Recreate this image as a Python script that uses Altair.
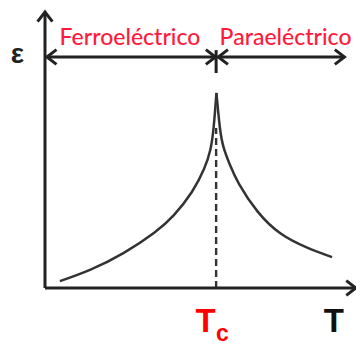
import altair as alt
import pandas as pd

# Permittivity vs temperature around the Curie point (arbitrary units)
TC = 55.2
left_T = [4.8, 14.5, 25.3, 36.0, 41.4, 47.8, 51.6, 53.5, 54.4, 55.3]
left_eps = [2.5, 6.3, 12.3, 20.4, 25.8, 34.9, 43.4, 50.0, 57.2, 70.7]
right_T = [55.3, 56.4, 57.4, 59.7, 61.9, 68.4, 75.8, 84.5, 92.6]
right_eps = [70.7, 57.2, 51.0, 44.4, 38.6, 27.2, 19.2, 14.5, 11.2]

# Phase-region arrows and labels
band_eps = 83.7
phase_labels = ["Ferroeléctrico", "Paraeléctrico"]
phase_T = [27.4, 77.6]
phase_eps = [88.0, 88.0]
ferro_span = [0.6, 55.0]
para_span = [55.9, 96.6]

W, H = 310, 276
INK = "#222222"
RED = "#ff1a3c"

xs = alt.Scale(domain=[0, 100], nice=False, zero=False)
ys = alt.Scale(domain=[0, 100], nice=False, zero=False)


def X(field="T"):
    return alt.X(field, type="quantitative", scale=xs, axis=None)


def Y(field="eps"):
    return alt.Y(field, type="quantitative", scale=ys, axis=None)


curve_df = pd.DataFrame(
    {"T": left_T + right_T,
     "eps": left_eps + right_eps,
     "branch": ["ferro"] * len(left_T) + ["para"] * len(right_T)}
)
curve = alt.Chart(curve_df).mark_line(
    interpolate="basis", color="#333333", strokeWidth=2.5
).encode(x=X(), y=Y(), detail="branch:N")

# Axes as plain segments
segs = pd.DataFrame({
    "T": [0, 0, ferro_span[0], para_span[0], TC],
    "T2": [0, 100, ferro_span[1], para_span[1], TC],
    "eps": [0, 0, band_eps, band_eps, 77.9],
    "eps2": [100, 0, band_eps, band_eps, 86.2],
})
axes = alt.Chart(segs).mark_rule(color=INK, strokeWidth=3).encode(
    x=X(), x2="T2", y=Y(), y2="eps2"
)

# Dashed marker at the Curie temperature
dash_df = pd.DataFrame({"T": [TC], "eps": [0], "eps2": [58]})
dashed = alt.Chart(dash_df).mark_rule(
    color="#333333", strokeWidth=2.4, strokeDash=[7, 4]
).encode(x=X(), y=Y(), y2="eps2")

# Open arrowheads (tip at the point, pointing right before rotation)
chevron = "M-1.3,-1L0,0L-1.3,1"
heads = pd.DataFrame({
    "T": [0, 100.3, ferro_span[0], ferro_span[1], para_span[0], para_span[1]],
    "eps": [100, 0, band_eps, band_eps, band_eps, band_eps],
    "ang": [270, 0, 180, 0, 180, 0],
})
arrowheads = alt.Chart(heads).mark_point(
    shape=chevron, filled=False, color=INK, strokeWidth=3, size=220, opacity=1
).encode(x=X(), y=Y(), angle=alt.Angle("ang:Q", scale=None))

phase_df = pd.DataFrame({"T": phase_T, "eps": phase_eps, "label": phase_labels})
phase_text = alt.Chart(phase_df).mark_text(
    font="Lato", fontSize=23, fontWeight=500, color=RED,
    baseline="alphabetic", align="center"
).encode(x=X(), y=Y(), text="label:N")

eps_df = pd.DataFrame({"T": [-8.9], "eps": [84.6], "label": ["ε"]})
eps_text = alt.Chart(eps_df).mark_text(
    font="Liberation Sans", fontWeight="bold", fontSize=28, color=INK,
    baseline="middle", align="center"
).encode(x=X(), y=Y(), text="label:N")

t_df = pd.DataFrame({"T": [93.2], "eps": [-15.9], "label": ["T"]})
t_text = alt.Chart(t_df).mark_text(
    font="Liberation Sans", fontWeight="bold", fontSize=33, color="#111111",
    baseline="alphabetic", align="center"
).encode(x=X(), y=Y(), text="label:N")

tc_df = pd.DataFrame({"T": [51.8], "eps": [-15.9], "label": ["T"]})
tc_text = alt.Chart(tc_df).mark_text(
    font="Liberation Sans", fontWeight="bold", fontSize=33, color="#ff0000",
    baseline="alphabetic", align="center"
).encode(x=X(), y=Y(), text="label:N")

sub_df = pd.DataFrame({"T": [55.2], "eps": [-19.2], "label": ["c"]})
sub_text = alt.Chart(sub_df).mark_text(
    font="Liberation Sans", fontWeight="bold", fontSize=23, color="#ff0000",
    baseline="alphabetic", align="left"
).encode(x=X(), y=Y(), text="label:N")

chart = alt.layer(
    dashed, curve, axes, arrowheads, phase_text, eps_text, t_text, tc_text, sub_text
).properties(
    width=W, height=H,
    autosize=alt.AutoSizeParams(type="none"),
    padding={"left": 45, "top": 12, "right": 1, "bottom": 57},
    background="white",
).configure_view(stroke=None)

chart.save("out.html", embed_options={"renderer": "svg", "actions": False})
